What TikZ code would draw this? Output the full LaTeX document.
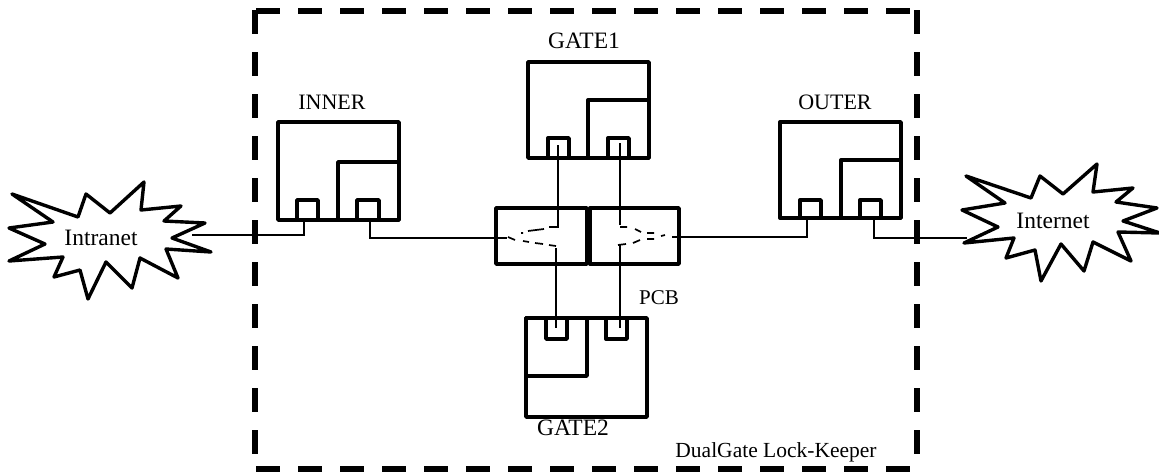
\documentclass[tikz,border=0pt]{standalone}
\usepackage{fontspec}
\setmainfont{Liberation Serif}
\tikzset{
  thick box/.style={draw=black,line width=3.4pt,line join=round,line cap=round},
  star/.style={draw=black,line width=3.4pt,line join=round},
  wire/.style={draw=black,line width=1.7pt},
  frame/.style={draw=black,line width=6pt,dash pattern=on 24pt off 18pt},
  lbl/.style={inner sep=0pt,font=\fontsize{22}{26}\selectfont,text=black},
  lblb/.style={inner sep=0pt,font=\fontsize{23.5}{26}\selectfont,text=black},
}
\begin{document}
\begin{tikzpicture}[x=1pt,y=-1pt]
\useasboundingbox (0,0) rectangle (1159,474);
\coordinate (fa) at (256,11); \coordinate (fb) at (911,11);
\coordinate (fc) at (256,469); \coordinate (fd) at (911,469);
\coordinate (fe) at (255,10); \coordinate (ff) at (255,454);
\coordinate (fg) at (917,10); \coordinate (fh) at (917,454);
\path[frame] (fa) -- (fb);
\path[frame] (fc) -- (fd);
\path[frame] (fe) -- (ff);
\path[frame] (fg) -- (fh);
\path[star] (12,194)--(78,217)--(86,194)--(110,213)--(144,182)--(141,210)--(181,206)--(164,221)--(205,223)--(172,238)--(211,252)--(166,249)--(178,278)--(140,258)--(132,288)--(106,262)--(88,299)--(80,270)--(54,277)--(63,257)--(9,261)--(45,244)--(9,228)--(53,222)--cycle;
\path[star] (966,176)--(1031,198)--(1040,176)--(1063,194)--(1097,164)--(1093,192)--(1133,188)--(1116,202)--(1157,208)--(1123,221)--(1160,233)--(1118,232)--(1131,261)--(1093,242)--(1084,271)--(1061,244)--(1041,281)--(1035,250)--(1006,258)--(1014,238)--(964,243)--(998,227)--(962,210)--(1005,203)--cycle;
\node[lblb] (intranet) at (101,238) {Intranet};
\node[lblb] (internet) at (1053,221) {Internet};
\path[thick box] (278,122) rectangle (399,220);
\path[thick box] (338,162) rectangle (399,220);
\path[thick box] (297,200) rectangle (318,220);
\path[thick box] (357,200) rectangle (379,220);
\path[thick box] (780,122) rectangle (901,218);
\path[thick box] (841,160) rectangle (901,218);
\path[thick box] (800,200) rectangle (821,218);
\path[thick box] (860,200) rectangle (881,218);
\path[thick box] (528,62) rectangle (649,158);
\path[thick box] (588,100) rectangle (649,158);
\path[thick box] (548,138) rectangle (569,158);
\path[thick box] (608,138) rectangle (629,158);
\path[thick box] (526,318) rectangle (647,417);
\path[thick box] (526,318) rectangle (587,376);
\path[thick box] (546,318) rectangle (567,339);
\path[thick box] (606,318) rectangle (627,339);
\path[thick box] (496,208) rectangle (587,264);
\path[thick box] (590,208) rectangle (679,264);
\path[wire] (192,235) -- (304,235) -- (304,220);
\path[wire] (370,220) -- (370,238) -- (507,238);
\path[wire] (558,145) -- (558,228);
\path[wire] (556,248) -- (556,328);
\path[wire] (620,143) -- (620,225);
\path[wire] (620,245) -- (620,328);
\path[wire] (672,237) -- (807,237) -- (807,216);
\path[wire] (874,220) -- (874,238) -- (967,238);
\path[wire] (557,227) -- (549,227) (544,229) -- (528,231) (523,233) -- (521,233) (515,240) -- (508,237);
\path[wire] (556,246) -- (549,245) (543,244) -- (535,243) (529,242) -- (523,241);
\path[wire] (620,227) -- (627,227) (635,229) -- (641,232) (647,233) -- (654,233) (661,236) -- (665,235);
\path[wire] (618,245) -- (626,244) (633,243) -- (640,240) (647,239) -- (654,239);
\node[lblb] (gateone) at (584,41) {GATE1};
\node[lbl] (inner) at (332,102) {INNER};
\node[lbl] (outer) at (835,102) {OUTER};
\node[inner sep=0pt,font=\fontsize{21}{26}\selectfont] (pcb) at (659,298) {PCB};
\node[lblb] (gatetwo) at (573,428) {GATE2};
\node[inner sep=0pt,font=\fontsize{21.5}{26}\selectfont] (dual) at (776,452) {DualGate Lock-Keeper};
\end{tikzpicture}
\end{document}
